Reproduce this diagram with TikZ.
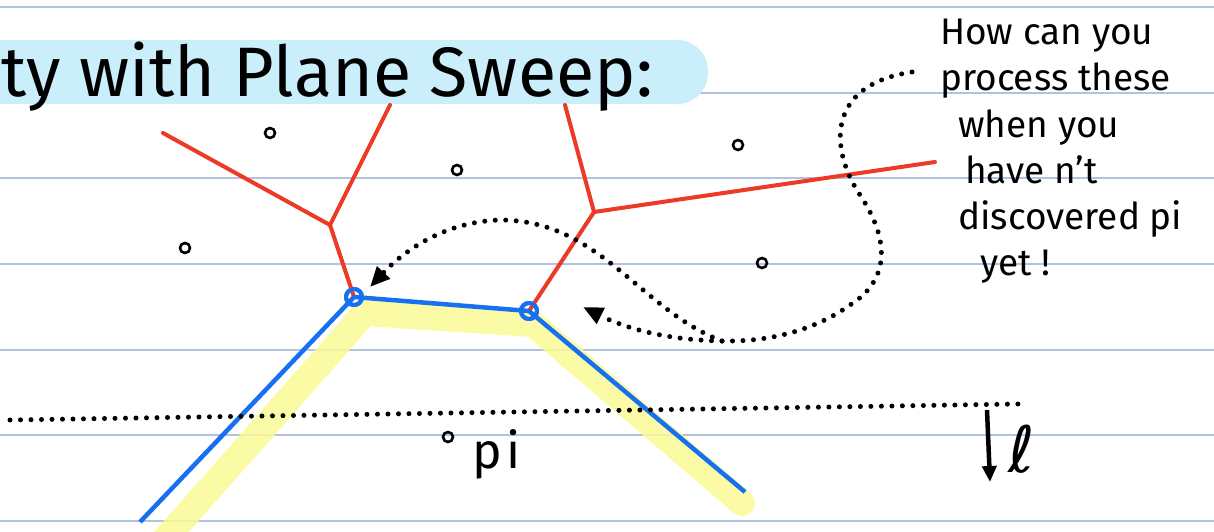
\documentclass[tikz,border=0pt]{standalone}
\usepackage{fontspec}
\setmainfont{Fira Sans}
\newfontfamily\symfont{DejaVu Sans}
\usetikzlibrary{arrows.meta}
\definecolor{rulec}{RGB}{178,195,222}
\definecolor{hlc}{RGB}{202,238,250}
\definecolor{vred}{RGB}{236,58,38}
\definecolor{vblue}{RGB}{22,112,240}
\definecolor{hyel}{RGB}{250,250,150}
\tikzset{
  ruleline/.style={rulec, line width=1.6pt},
  redge/.style={vred, line width=4pt, line cap=round},
  bedge/.style={vblue, line width=4.5pt, line join=round},
  bcirc/.style={circle, draw=vblue, line width=4pt, minimum size=16pt, inner sep=0pt},
  site/.style={circle, draw=black, line width=2.6pt, minimum size=10pt, inner sep=0pt},
  dotline/.style={black, line width=5pt, line cap=round, dash pattern=on 0pt off 10.5pt},
  hand/.style={anchor=base west, font=\fontsize{37}{44}\selectfont, inner sep=0pt},
  tip/.style={-{Triangle[length=20pt,width=17pt]}},
}
\begin{document}
\begin{tikzpicture}[x=1pt,y=-1pt]
\useasboundingbox (0,0) rectangle (1214,532);
% ruled paper
\foreach \yy in {7,93,178,264,350,435,521}
  \draw[ruleline] (0,\yy) -- (1214,\yy);
% title highlight
\fill[hlc, rounded corners=31pt] (-40,40) rectangle (708,104);
\node[anchor=base west, font=\fontsize{70}{80}\selectfont, inner sep=0pt] (title) at (1,97) {ty with Plane Sweep:};
% yellow highlight of beach line
\draw[hyel, line width=26pt, line join=round, line cap=round, opacity=0.85]
  (160,545) -- (365,313) -- (533,324) -- (742,503);
% Voronoi vertices and edges
\coordinate (va) at (330,225);
\coordinate (vb) at (594,212);
\coordinate (ra1) at (163,133);
\coordinate (ra2) at (390,105);
\coordinate (rb1) at (565,105);
\coordinate (rb2) at (935,162);
\coordinate (bl) at (140,522);
\coordinate (br) at (745,492);
\node[bcirc] (c1) at (354,297) {};
\node[bcirc] (c2) at (529,311) {};
\draw[redge] (ra1) -- (va) -- (ra2);
\draw[redge] (va) -- (c1.center);
\draw[redge] (rb1) -- (vb) -- (rb2);
\draw[redge] (vb) -- (c2.center);
\draw[bedge] (bl) -- (c1.center) -- (c2.center) -- (br);
\node[bcirc] at (c1) {};
\node[bcirc] at (c2) {};
% sites
\node[site] (s1) at (270,133) {};
\node[site] (s2) at (457,170) {};
\node[site] (s3) at (738,145) {};
\node[site] (s4) at (185,248) {};
\node[site] (s5) at (762,263) {};
\node[site] (s6) at (448,437) {};
% sweep line
\coordinate (l1) at (10,420);
\coordinate (l2) at (1018,404);
\draw[dotline] (l1) -- (l2);
\coordinate (d1) at (987,410);
\coordinate (d2) at (990,482);
\draw[black, line width=4.5pt, -{Triangle[length=16pt,width=14pt]}] (d1) -- (d2);
\node[anchor=base west, inner sep=0pt, font=\symfont\fontsize{64}{70}\selectfont] (ell) at (1008,472) {ℓ};
\node[anchor=base west, inner sep=0pt, font=\fontsize{50}{56}\selectfont] (pi) at (472,468) {p\kern5pt i};
% dotted curves
\coordinate (q0) at (912,72);
\coordinate (qj) at (722,341);
\draw[dotline] (q0) .. controls (825,85) and (830,150) .. (860,195)
  .. controls (890,240) and (890,280) .. (850,305)
  .. controls (815,330) and (770,342) .. (qj);
\coordinate (ah1) at (370,287);
\coordinate (ah2) at (583,307);
\draw[dotline, tip] (qj) .. controls (640,310) and (600,220) .. (500,220)
  .. controls (440,222) and (400,255) .. (ah1);
\draw[dotline, tip] (qj) .. controls (665,340) and (625,328) .. (ah2);
% question text
\node[hand] (t1) at (940,45) {How can you};
\node[hand] (t2) at (940,91) {process these};
\node[hand] (t3) at (958,137) {when you};
\node[hand] (t4) at (965,183) {have n't};
\node[hand] (t5) at (958,229) {discovered pi};
\node[hand] (t6) at (980,275) {yet !};
\end{tikzpicture}
\end{document}
